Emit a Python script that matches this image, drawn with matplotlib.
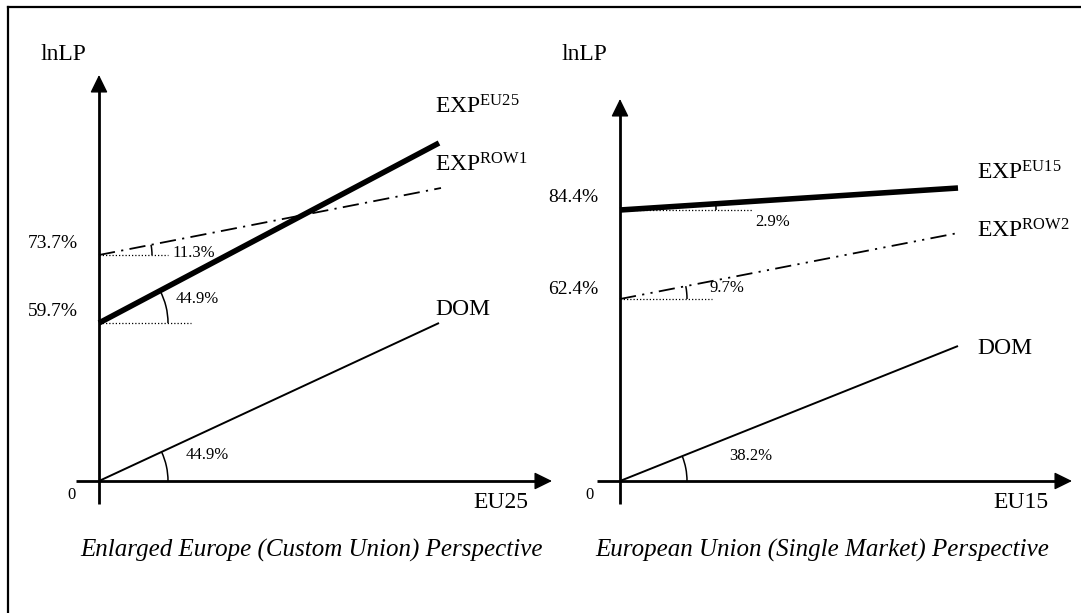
import numpy as np
import matplotlib
matplotlib.use("Agg")
import matplotlib.pyplot as plt
from matplotlib.patches import Arc
from matplotlib.lines import Line2D

plt.rcParams['font.family'] = ['Liberation Serif', 'DejaVu Serif']
plt.rcParams['mathtext.fontset'] = 'custom'
plt.rcParams['mathtext.rm'] = 'Liberation Serif'
plt.rcParams['mathtext.it'] = 'Liberation Serif:italic'

W, H = 1081, 613

# ---------------- data (diagram units, origin at axis crossing) -------------
left_lines = ["DOM", "EXP_EU25", "EXP_ROW1"]
left_x_end = [340, 340, 342]
left_y_start = [0, 158, 226]
left_y_end = [158, 338, 293]
left_slope_labels = ["44.9%", "44.9%", "11.3%"]
left_intercept_labels = ["59.7%", "73.7%"]

right_lines = ["DOM", "EXP_EU15", "EXP_ROW2"]
right_x_end = [338, 338, 338]
right_y_start = [0, 271, 182]
right_y_end = [135, 293, 248]
right_slope_labels = ["38.2%", "2.9%", "9.7%"]
right_intercept_labels = ["84.4%", "62.4%"]

left_xlabel, right_xlabel = "EU25", "EU15"
ylabel = "lnLP"
left_caption = "Enlarged Europe (Custom Union) Perspective"
right_caption = "European Union (Single Market) Perspective"

fig = plt.figure(figsize=(W / 100, H / 100), dpi=100)

# frame axes in pixel coordinates for border
frame = fig.add_axes([0, 0, 1, 1])
frame.set_xlim(0, W)
frame.set_ylim(H, 0)
frame.axis('off')
frame.add_line(Line2D([8, 8], [7, H + 5], color='black', lw=1.6))
frame.add_line(Line2D([8, W + 5], [7, 7], color='black', lw=1.6))


def panel(origin_x, origin_y, x_end, y_start, y_end, styles, arc_r, dot_len,
          xaxis_len, yaxis_len):
    ax = fig.add_axes([0, 0, 1, 1])
    ax.set_xlim(-origin_x, W - origin_x)
    ax.set_ylim(origin_y - H, origin_y)
    ax.axis('off')
    # axes with arrows
    ax.plot([0, 0], [-23, yaxis_len - 12], color='black', lw=2.0,
            solid_capstyle='butt')
    ax.plot([-23, xaxis_len - 12], [0, 0], color='black', lw=2.0,
            solid_capstyle='butt')
    ax.annotate("", xy=(0, yaxis_len), xytext=(0, yaxis_len - 16),
                arrowprops=dict(arrowstyle='-|>,head_length=0.55,head_width=0.27',
                                mutation_scale=20, color='black', lw=1.0,
                                shrinkA=0, shrinkB=0))
    ax.annotate("", xy=(xaxis_len, 0), xytext=(xaxis_len - 16, 0),
                arrowprops=dict(arrowstyle='-|>,head_length=0.55,head_width=0.27',
                                mutation_scale=20, color='black', lw=1.0,
                                shrinkA=0, shrinkB=0))
    for i in range(3):
        ax.plot([0, x_end[i]], [y_start[i], y_end[i]], color='black',
                solid_capstyle='butt', dash_capstyle='butt', **styles[i])
        ang = np.degrees(np.arctan2(y_end[i] - y_start[i], x_end[i]))
        ax.add_patch(Arc((0, y_start[i]), 2 * arc_r[i], 2 * arc_r[i],
                         theta1=0, theta2=ang, color='black', lw=1.1))
        if dot_len[i] > 0:
            ax.plot([0, dot_len[i]], [y_start[i], y_start[i]], color='black',
                    lw=0.9, linestyle=(0, (1, 1.6)))
    return ax


styles_l = [dict(lw=1.4), dict(lw=4.0), dict(lw=1.3, linestyle=(0, (9, 3.5, 1.2, 3.5)))]
styles_r = [dict(lw=1.4), dict(lw=4.0),
            dict(lw=1.3, linestyle=(0, (9, 3.5, 1.2, 3.5, 1.2, 3.5)))]

axL = panel(99, 481, left_x_end, left_y_start, left_y_end, styles_l,
            arc_r=[69, 69, 53], dot_len=[0, 92, 69], xaxis_len=453, yaxis_len=406)
axR = panel(620, 481, right_x_end, right_y_start, right_y_end, styles_r,
            arc_r=[67, 96, 67], dot_len=[0, 132, 92], xaxis_len=452, yaxis_len=382)

big = 17
mid = 14
small = 12
cap = 18

# left panel texts
axL.text(-36, 427, ylabel, fontsize=big, ha='center', va='center')
axL.text(-46, 238, left_intercept_labels[1], fontsize=mid, ha='center', va='center')
axL.text(-46, 169, left_intercept_labels[0], fontsize=mid, ha='center', va='center')
axL.text(-28, -14, "0", fontsize=small, ha='center', va='center')
axL.text(402, -21, left_xlabel, fontsize=big, ha='center', va='center')
axL.text(336, 368, r'$\mathrm{EXP}^{\mathrm{EU25}}$', fontsize=big, ha='left', va='baseline')
axL.text(336, 310, r'$\mathrm{EXP}^{\mathrm{ROW1}}$', fontsize=big, ha='left', va='baseline')
axL.text(336, 166, "DOM", fontsize=big, ha='left', va='baseline')
axL.text(73, 228, left_slope_labels[2], fontsize=small, ha='left', va='center')
axL.text(77, 182, left_slope_labels[1], fontsize=small, ha='left', va='center')
axL.text(87, 26, left_slope_labels[0], fontsize=small, ha='left', va='center')
axL.text(213, -69, left_caption, fontsize=cap, style='italic', ha='center', va='center')

# right panel texts
axR.text(-36, 427, ylabel, fontsize=big, ha='center', va='center')
axR.text(-47, 284, right_intercept_labels[0], fontsize=mid, ha='center', va='center')
axR.text(-47, 192, right_intercept_labels[1], fontsize=mid, ha='center', va='center')
axR.text(-31, -14, "0", fontsize=small, ha='center', va='center')
axR.text(401, -21, right_xlabel, fontsize=big, ha='center', va='center')
axR.text(357, 301, r'$\mathrm{EXP}^{\mathrm{EU15}}$', fontsize=big, ha='left', va='baseline')
axR.text(357, 244, r'$\mathrm{EXP}^{\mathrm{ROW2}}$', fontsize=big, ha='left', va='baseline')
axR.text(357, 127, "DOM", fontsize=big, ha='left', va='baseline')
axR.text(135, 259, right_slope_labels[1], fontsize=small, ha='left', va='center')
axR.text(90, 193, right_slope_labels[2], fontsize=small, ha='left', va='center')
axR.text(109, 25, right_slope_labels[0], fontsize=small, ha='left', va='center')
axR.text(202, -69, right_caption, fontsize=cap, style='italic', ha='center', va='center')

fig.savefig("out.png", dpi=100)
